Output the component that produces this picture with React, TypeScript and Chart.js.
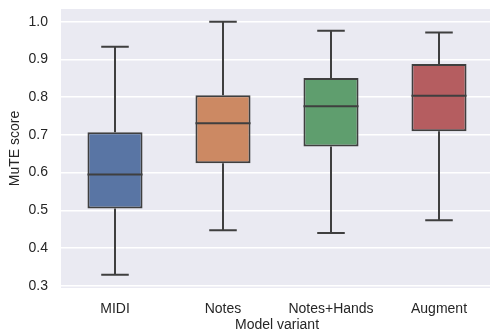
import React, { useEffect, useRef } from "react";
import { Chart, registerables } from "chart.js";

Chart.register(...registerables);

const categories = ["MIDI", "Notes", "Notes+Hands", "Augment"];
const whiskerLow = [0.329, 0.447, 0.44, 0.474];
const q1 = [0.505, 0.625, 0.669, 0.71];
const median = [0.595, 0.731, 0.776, 0.804];
const q3 = [0.707, 0.805, 0.851, 0.888];
const whiskerHigh = [0.934, 1.0, 0.976, 0.972];
const boxColors = ["#5975a4", "#cc8963", "#5f9e6e", "#b55d60"];
const yTicks = [0.3, 0.4, 0.5, 0.6, 0.7, 0.8, 0.9, 1.0];
const yTickLabels = ["0.3", "0.4", "0.5", "0.6", "0.7", "0.8", "0.9", "1.0"];

const EDGE = "#3f3f3f";
const FONT = "'Liberation Sans', Arial, sans-serif";

const bgPlugin = {
  id: "plotBg",
  beforeDraw(chart: any) {
    const { ctx, chartArea } = chart;
    ctx.save();
    ctx.fillStyle = "#eaeaf2";
    ctx.fillRect(chartArea.left, chartArea.top, chartArea.right - chartArea.left, chartArea.bottom - chartArea.top);
    ctx.restore();
  },
};

const whiskerPlugin = {
  id: "whiskers",
  beforeDatasetsDraw(chart: any) {
    const { ctx } = chart;
    const xs = chart.scales.x;
    const ys = chart.scales.y;
    const meta = chart.getDatasetMeta(0);
    ctx.save();
    ctx.strokeStyle = EDGE;
    ctx.lineWidth = 2;
    ctx.lineCap = "butt";
    categories.forEach((_, i) => {
      const x = xs.getPixelForValue(i);
      const w = meta.data[i].width;
      const cap = w / 2;
      const yLo = ys.getPixelForValue(whiskerLow[i]);
      const yHi = ys.getPixelForValue(whiskerHigh[i]);
      const yQ1 = ys.getPixelForValue(q1[i]);
      const yQ3 = ys.getPixelForValue(q3[i]);
      ctx.beginPath();
      ctx.moveTo(x, yQ3);
      ctx.lineTo(x, yHi);
      ctx.moveTo(x - cap / 2, yHi);
      ctx.lineTo(x + cap / 2, yHi);
      ctx.moveTo(x, yQ1);
      ctx.lineTo(x, yLo);
      ctx.moveTo(x - cap / 2, yLo);
      ctx.lineTo(x + cap / 2, yLo);
      ctx.stroke();
    });
    ctx.restore();
  },
  afterDatasetsDraw(chart: any) {
    const { ctx } = chart;
    const xs = chart.scales.x;
    const ys = chart.scales.y;
    const meta = chart.getDatasetMeta(0);
    ctx.save();
    ctx.strokeStyle = EDGE;
    ctx.lineWidth = 2;
    categories.forEach((_, i) => {
      const x = xs.getPixelForValue(i);
      const w = meta.data[i].width;
      const ym = ys.getPixelForValue(median[i]);
      ctx.beginPath();
      ctx.moveTo(x - w / 2, ym);
      ctx.lineTo(x + w / 2, ym);
      ctx.stroke();
    });
    ctx.restore();
  },
};

export default function App() {
  const ref = useRef<HTMLCanvasElement>(null);
  useEffect(() => {
    document.body.style.margin = "0";
    document.body.style.overflow = "hidden";
    const chart = new Chart(ref.current!, {
      type: "bar",
      data: {
        labels: categories,
        datasets: [
          {
            data: categories.map((_, i) => [q1[i], q3[i]]) as any,
            backgroundColor: boxColors,
            borderColor: EDGE,
            borderWidth: 2,
            borderSkipped: false,
            barPercentage: 0.51,
            categoryPercentage: 1,
          },
        ],
      },
      options: {
        animation: false,
        responsive: false,
        layout: { padding: { top: 9, right: 1, left: 0, bottom: 0 } },
        plugins: { legend: { display: false }, tooltip: { enabled: false } },
        scales: {
          x: {
            grid: { display: false },
            border: { display: false },
            ticks: { color: "#262626", font: { family: FONT, size: 14, lineHeight: 1.2 }, padding: 5 },
            title: {
              display: true,
              text: "Model variant",
              color: "#262626",
              font: { family: FONT, size: 14, lineHeight: 0.85 },
              padding: { top: 0, bottom: 0 },
            },
            afterFit(scale: any) {
              scale.height = 43;
              scale.paddingLeft = 0;
              scale.paddingRight = 0;
            },
          },
          y: {
            min: 0.294,
            max: 1.034,
            grid: { color: "#ffffff", lineWidth: 1.5, drawTicks: false },
            border: { display: false },
            afterBuildTicks(scale: any) {
              scale.ticks = yTicks.map((v) => ({ value: v }));
            },
            ticks: {
              color: "#262626",
              font: { family: FONT, size: 14 },
              padding: 13,
              callback: (_v: any, idx: number) => yTickLabels[idx],
            },
            title: {
              display: true,
              text: "MuTE score",
              color: "#262626",
              font: { family: FONT, size: 14, lineHeight: 1.2 },
              padding: { top: 7, bottom: 0 },
            },
            afterFit(scale: any) {
              scale.width = 61;
              scale.paddingTop = 0;
              scale.paddingBottom = 0;
            },
          },
        },
      },
      plugins: [bgPlugin, whiskerPlugin],
    });
    return () => chart.destroy();
  }, []);
  return (
    <div style={{ width: 490, height: 331, overflow: "hidden", background: "#fff" }}>
      <canvas ref={ref} width={494} height={331} style={{ display: "block" }} />
    </div>
  );
}
